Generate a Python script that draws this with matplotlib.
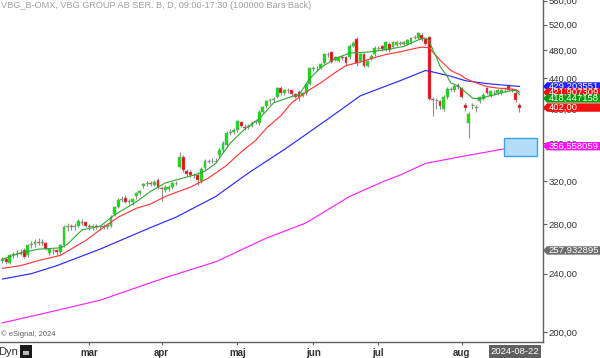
import pandas as pd
import matplotlib
matplotlib.use("Agg")
import matplotlib.pyplot as plt
from matplotlib.patches import Polygon, Rectangle
from matplotlib.ticker import FixedLocator, NullLocator

plt.rcParams['font.family'] = ['Liberation Sans', 'DejaVu Sans']

# trading days (Stockholm holidays removed)
holidays = ["2024-03-29", "2024-04-01", "2024-05-01", "2024-05-09", "2024-06-06", "2024-06-21"]
dates = pd.bdate_range("2024-01-26", "2024-08-22")
dates = dates[~dates.isin(pd.to_datetime(holidays))]

opens = [250, 251, 248, 254, 255, 256, 258, 254, 262, 263,
         265, 264, 264, 256, 258, 258, 257, 262, 277, 278,
         277, 278, 282, 282, 278, 277, 278, 277, 278, 277,
         278, 289, 295, 302, 304, 300, 300, 305, 308, 315,
         317, 318, 316, 321, 313, 311, 312, 314, 318, 334,
         345, 330, 329, 326, 326, 320, 333, 341, 341, 341,
         347, 352, 358, 372, 373, 375, 384, 379, 378, 380,
         384, 383, 397, 404, 410, 412, 416, 427, 420, 424,
         424, 419, 422, 417, 420, 433, 453, 454, 455, 462,
         474, 477, 466, 465, 471, 470, 470, 487, 497, 465,
         474, 458, 468, 474, 484, 486, 481, 490, 485, 488,
         490, 490, 490, 492, 500, 499, 504, 497, 500, 413,
         411, 410, 400, 415, 426, 424, 431, 427, 405, 383,
         405, 402, 410, 413, 427, 417, 421, 420, 420, 424,
         430, 425, 421, 405]
highs = [253, 252, 255, 257, 258, 259, 260, 263, 266, 267,
         268, 267, 265, 260, 260, 259, 263, 279, 281, 280,
         281, 284, 284, 283, 280, 280, 280, 279, 280, 281,
         288, 296, 304, 305, 306, 303, 304, 309, 311, 318,
         320, 320, 321, 323, 315, 316, 316, 319, 320, 350,
         347, 332, 331, 328, 328, 334, 343, 343, 344, 344,
         354, 362, 374, 376, 377, 387, 386, 382, 382, 385,
         388, 399, 404, 411, 414, 416, 429, 430, 426, 427,
         426, 421, 424, 422, 435, 456, 457, 458, 462, 476,
         478, 479, 472, 471, 473, 472, 489, 494, 500, 476,
         476, 466, 474, 486, 487, 488, 494, 492, 494, 494,
         494, 494, 498, 501, 503, 509, 507, 499, 502, 416,
         414, 412, 418, 428, 429, 432, 434, 429, 408, 396,
         408, 405, 417, 420, 429, 425, 424, 426, 426, 428,
         432, 427, 423, 408]
lows = [248, 247, 247, 252, 253, 254, 252, 253, 260, 261,
        262, 262, 258, 254, 255, 254, 255, 261, 274, 275,
        275, 277, 279, 277, 275, 275, 276, 275, 276, 276,
        277, 287, 294, 300, 299, 298, 297, 303, 306, 313,
        315, 315, 315, 312, 301, 309, 310, 312, 316, 333,
        329, 325, 324, 323, 316, 318, 331, 338, 338, 339,
        345, 350, 356, 369, 370, 373, 378, 375, 376, 378,
        382, 381, 395, 402, 407, 409, 414, 418, 418, 421,
        417, 414, 410, 415, 418, 431, 450, 451, 453, 460,
        471, 461, 464, 463, 466, 458, 468, 485, 458, 463,
        456, 456, 466, 472, 481, 479, 479, 478, 483, 486,
        488, 488, 488, 490, 497, 497, 495, 488, 411, 391,
        400, 400, 398, 413, 423, 422, 426, 414, 398, 366,
        400, 396, 408, 411, 419, 415, 418, 418, 418, 422,
        423, 422, 409, 397]
closes = [251, 249, 254, 255, 256, 255, 253, 262, 263, 265,
          264, 265, 259, 259, 258, 257, 262, 277, 278, 277,
          278, 283, 281, 278, 277, 278, 277, 278, 277, 279,
          286, 295, 302, 303, 300, 301, 303, 308, 310, 317,
          318, 317, 319, 313, 312, 314, 314, 318, 318, 345,
          331, 327, 326, 326, 321, 332, 341, 341, 340, 341,
          352, 360, 372, 373, 375, 385, 380, 377, 380, 383,
          385, 397, 403, 410, 412, 413, 427, 420, 424, 424,
          419, 416, 415, 420, 433, 454, 454, 455, 460, 474,
          474, 463, 470, 470, 469, 462, 487, 491, 462, 474,
          458, 464, 472, 484, 484, 482, 492, 481, 492, 492,
          491, 492, 496, 499, 500, 506, 497, 490, 413, 411,
          411, 404, 416, 426, 426, 430, 428, 416, 402, 394,
          405, 403, 415, 418, 421, 423, 421, 424, 424, 425,
          425, 424, 411, 402]

# moving averages at selected bars
ma_fast_idx = [0, 5, 10, 16, 18, 22, 27, 31, 37, 41, 45, 49, 53, 56, 59, 63, 67, 71, 75, 80,
               82, 85, 88, 92, 96, 102, 107, 111, 115, 117, 118, 119, 120, 121, 123, 124, 126,
               127, 129, 130, 132, 134, 136, 138, 140, 142, 143]
ma_fast = [251, 256, 259, 260, 263, 275, 278, 288, 300, 310, 318, 322, 326, 330, 338, 360, 376,
           388, 408, 416, 418, 440, 455, 468, 476, 478, 482, 486, 496, 499, 495, 481, 470, 457,
           443, 434, 430, 426, 418, 414, 413, 416, 418, 421, 423, 424, 418.447158]
ma_mid_idx = [0, 5, 10, 16, 23, 27, 32, 37, 41, 45, 52, 57, 62, 66, 70, 73, 77, 80, 84, 88,
              92, 95, 99, 102, 106, 110, 114, 116, 118, 119, 121, 124, 127, 128, 131, 134,
              137, 140, 142, 143]
ma_mid = [244, 246, 250, 254, 266, 275, 286, 294, 298, 305, 314, 323, 336, 350, 363, 377, 392,
          408, 422, 434, 448, 458, 463, 468, 474, 478, 483, 485, 484, 478, 466, 451, 444, 440,
          434, 429, 427, 426, 425, 421.907309]
ma_slow_idx = [0, 8, 15, 27, 41, 48, 59, 68, 78, 84, 91, 99, 110, 117, 119, 124, 128, 134, 143]
ma_slow = [236, 240, 246, 259, 277, 286, 305, 328, 353, 370, 391, 417, 437, 451, 449, 443, 437,
           433, 429.203551]
ma_long_idx = [0, 13, 27, 45, 59, 73, 84, 96, 105, 110, 117, 128, 143]
ma_long = [206, 213, 221, 237, 249, 268, 281, 305, 319, 326, 338, 346, 356.558059]

month_labels = ["mar", "apr", "maj", "jun", "jul", "aug"]
lower_band_last = 257.932895
last_price = 402.00

W, H = 600, 358
fig = plt.figure(figsize=(W / 100, H / 100), dpi=100)
ax = fig.add_axes([0, 16 / H, 543 / W, 342 / H])
ax.set_yscale('log')

x = list(range(len(dates)))
for i in x:
    o, hi, lo, c = opens[i], highs[i], lows[i], closes[i]
    ax.vlines(i, lo, hi, color='#8c8c8c', lw=0.8, zorder=2)
    col = '#00e600' if c >= o else '#ff0000'
    if c == o:
        ax.hlines(c, i - 0.38, i + 0.38, color='#8c8c8c', lw=0.8, zorder=3)
    else:
        ax.bar(i, abs(c - o), bottom=min(o, c), width=0.8, color=col,
               edgecolor='#999999', linewidth=0.35, zorder=3)

ax.plot(ma_long_idx, ma_long, color='#ff22ff', lw=0.85, zorder=4)
ax.plot(ma_slow_idx, ma_slow, color='#2a2aff', lw=0.85, zorder=4)
ax.plot(ma_mid_idx, ma_mid, color='#ff3a3a', lw=0.85, zorder=4)
ax.plot(ma_fast_idx, ma_fast, color='#2ea82e', lw=0.8, zorder=4)

ax.add_patch(Rectangle((138.7, 345.8), 9.2, 20.4, facecolor='#b4dcf8',
                       edgecolor='#3ca4ee', lw=1.0, zorder=5))

ax.set_xlim(-0.69, 149.5)
ax.set_ylim(194.1, 561.4)

for s in ['top', 'left']:
    ax.spines[s].set_visible(False)
for s in ['bottom', 'right']:
    ax.spines[s].set_color('#606060')
    ax.spines[s].set_linewidth(1.0)

yt = list(range(200, 561, 40))
ax.yaxis.set_major_locator(FixedLocator(yt))
ax.yaxis.set_minor_locator(NullLocator())
ax.set_yticklabels([f"{v:.2f}".replace('.', ',') for v in yt])
ax.yaxis.tick_right()
ax.tick_params(axis='y', direction='out', length=3, width=0.8, color='#606060',
               labelsize=6.8, labelcolor='#333333', pad=1)

month_pos = [dates.get_indexer([dates[dates.month == m][0]])[0] - 1 for m in range(3, 9)]
ax.set_xticks(month_pos)
ax.set_xticklabels(month_labels, fontweight='bold')
ax.tick_params(axis='x', direction='out', length=2, width=0.8, color='#606060',
               labelsize=7, labelcolor='#333333', pad=2)

fig.text(1 / W, 1 - 334 / H, "© eSignal, 2024", fontsize=5.5, color='#606060',
         va='center', ha='left')


def ypix(price):
    return H - ax.transData.transform((0, price))[1]


def tag(yc, text, color):
    h = 4.2
    pts = [(543, yc), (547, yc - h), (W, yc - h), (W, yc + h), (547, yc + h)]
    fig.add_artist(Polygon([(px / W, 1 - py / H) for px, py in pts], closed=True,
                           transform=fig.transFigure, facecolor=color, edgecolor='none', zorder=10))
    fig.text(548.5 / W, 1 - yc / H, text, color='white', fontsize=6.8, va='center',
             ha='left', zorder=11)


tags = [(ma_slow[-1], '#1f1fff'), (ma_mid[-1], '#f01010'), (ma_fast[-1], '#089a08'),
        (last_price, '#f41010'), (ma_long[-1], '#ff10ff'), (lower_band_last, '#6c6c6c')]
prev = -100
for val, col in tags:
    yc = max(ypix(val), prev + 6)
    tag(yc, f"{val:.6f}".rstrip('0').replace('.', ',') if val != last_price else "402,00", col)
    prev = yc

# header and footer bits
fig.text(1 / W, 1 - 5.5 / H, "VBG_B-OMX, VBG GROUP AB SER. B, D, 09:00-17:30 (100000 Bars Back)",
         fontsize=6.6, color='#a0a0a0', va='center', ha='left')
fig.text(-2 / W, 1 - 352 / H, "Dyn", fontsize=8, color='#333333', va='center', ha='left')
fig.add_artist(Rectangle((20 / W, 1 - 358 / H), 12 / W, 13 / H, transform=fig.transFigure,
                         facecolor='#1a1a1a', edgecolor='none'))
fig.add_artist(Rectangle((23 / W, 1 - 355 / H), 6 / W, 4 / H, transform=fig.transFigure,
                         facecolor='#bbbbbb', edgecolor='none'))
fig.add_artist(Rectangle((489 / W, 1 - 357.5 / H), 52 / W, 13 / H, transform=fig.transFigure,
                         facecolor='#606060', edgecolor='none'))
fig.text(515 / W, 1 - 351 / H, "2024-08-22", fontsize=6.8, color='white', va='center', ha='center')

fig.savefig("out.png", dpi=100)
